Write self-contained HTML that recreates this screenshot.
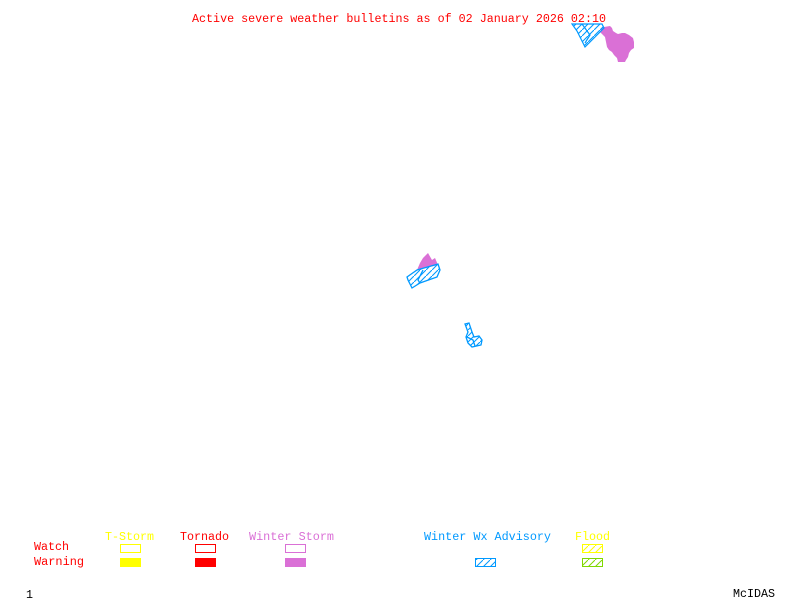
<!DOCTYPE html>
<html>
<head>
<meta charset="utf-8">
<style>
html,body{margin:0;padding:0;background:#fff;width:800px;height:600px;overflow:hidden}
svg{display:block}
text{font-family:"Liberation Mono",monospace;font-size:11.67px;white-space:pre}
</style>
</head>
<body>
<svg width="800" height="600" viewBox="0 0 800 600" xmlns="http://www.w3.org/2000/svg">
<defs>
<pattern id="hb" width="7" height="7" patternUnits="userSpaceOnUse"><path d="M-1 8L8 -1" stroke="#0099ff" stroke-width="1" fill="none"/></pattern>
<pattern id="hm" width="6" height="6" patternUnits="userSpaceOnUse"><path d="M-1 7L7 -1" stroke="#0099ff" stroke-width="1.1" fill="none"/></pattern>
<pattern id="hy" width="7" height="7" patternUnits="userSpaceOnUse"><path d="M-1 8L8 -1" stroke="#ffff00" stroke-width="1" fill="none"/></pattern>
<pattern id="hg" width="7" height="7" patternUnits="userSpaceOnUse"><path d="M-1 8L8 -1" stroke="#7fd800" stroke-width="1" fill="none"/></pattern>
</defs>

<text x="192" y="22" fill="#ff0000" textLength="414" lengthAdjust="spacingAndGlyphs">Active severe weather bulletins as of 02 January 2026 02:10</text>

<!-- top cluster -->
<polygon points="600,32 601,28 604,27 610,26 612,28 613,31 616,33 618,34 622,33 625,33 629,35 633,38 634,42 634,48 631,50 629,53 628,57 626,60 625,62 621,62 618,62 617,58 614,55 612,52 609,50 607,47 606,42 605,37" fill="#da70d6"/>
<polygon points="572,24 602,24 604,28 585,47 583,43 577,31" fill="url(#hm)" stroke="#0099ff" stroke-width="1.2"/>
<polyline points="582,24 590,35 585,43" fill="none" stroke="#0099ff" stroke-width="1.2"/>

<!-- middle cluster -->
<polygon points="417,270 420,263 423,258 428,253 432,260 435,258 438,265" fill="#da70d6"/>
<polygon points="407,277 417,270 438,264 440,270 437,277 420,283 412,288 408,280" fill="url(#hm)" stroke="#0099ff" stroke-width="1.3"/>
<polyline points="423,270 418,280 420,283" fill="none" stroke="#0099ff" stroke-width="1.3"/>

<!-- lower cluster -->
<polygon points="465,324 469,323 472,332 474,337 479,336 482,340 481,345 472,347 468,343 466,337 468,332" fill="url(#hm)" stroke="#0099ff" stroke-width="1.3"/>
<polyline points="467,337 473,340 475,346" fill="none" stroke="#0099ff" stroke-width="1.3"/>

<!-- legend labels -->
<text x="105" y="540" fill="#ffff00" textLength="49" lengthAdjust="spacingAndGlyphs">T-Storm</text>
<text x="180" y="540" fill="#ff0000" textLength="49" lengthAdjust="spacingAndGlyphs">Tornado</text>
<text x="249" y="540" fill="#da70d6" textLength="85" lengthAdjust="spacingAndGlyphs">Winter Storm</text>
<text x="424" y="540" fill="#0099ff" textLength="127" lengthAdjust="spacingAndGlyphs">Winter Wx Advisory</text>
<text x="575" y="540" fill="#ffff00" textLength="35" lengthAdjust="spacingAndGlyphs">Flood</text>
<text x="34" y="550" fill="#ff0000" textLength="35" lengthAdjust="spacingAndGlyphs">Watch</text>
<text x="34" y="565" fill="#ff0000" textLength="50" lengthAdjust="spacingAndGlyphs">Warning</text>
<text x="26" y="598" fill="#000000">1</text>
<text x="733" y="597" fill="#000000" textLength="42" lengthAdjust="spacingAndGlyphs">McIDAS</text>

<!-- legend boxes -->
<g shape-rendering="crispEdges" stroke-width="1">
<rect x="120.5" y="544.5" width="20" height="8" fill="none" stroke="#ffff00"/>
<rect x="195.5" y="544.5" width="20" height="8" fill="none" stroke="#ff0000"/>
<rect x="285.5" y="544.5" width="20" height="8" fill="none" stroke="#da70d6"/>
<rect x="120" y="558" width="21" height="9" fill="#ffff00"/>
<rect x="195" y="558" width="21" height="9" fill="#ff0000"/>
<rect x="285" y="558" width="21" height="9" fill="#da70d6"/>
</g>
<rect x="475.5" y="558.5" width="20" height="8" fill="url(#hb)" stroke="#0099ff"/>
<rect x="582.5" y="544.5" width="20" height="8" fill="url(#hy)" stroke="#ffff00"/>
<rect x="582.5" y="558.5" width="20" height="8" fill="url(#hg)" stroke="#7fd800"/>
</svg>
</body>
</html>
